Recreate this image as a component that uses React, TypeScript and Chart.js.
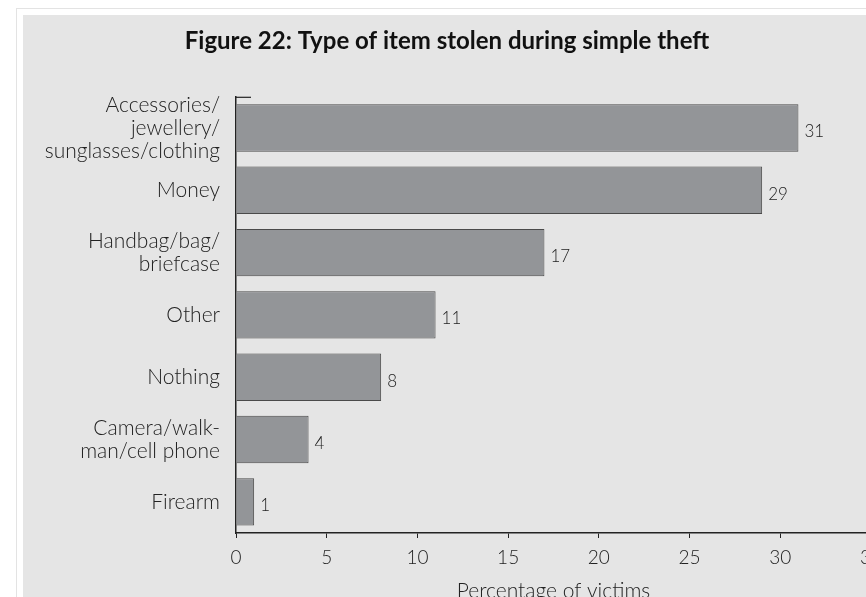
import React, { useEffect, useRef } from "react";
import { Chart, registerables } from "chart.js";

Chart.register(...registerables);

const titleText = "Figure 22: Type of item stolen during simple theft";
const xTitle = "Percentage of victims";
const categories: (string | string[])[] = [
  ["Accessories/", "jewellery/", "sunglasses/clothing"],
  "Money",
  ["Handbag/bag/", "briefcase"],
  "Other",
  "Nothing",
  ["Camera/walk-", "man/cell phone"],
  "Firearm",
];
const values = [31, 29, 17, 11, 8, 4, 1];
const xMin = 0;
const xMax = 35;
const xStep = 5;

const FONT = "Lato";
const TEXT = "#222";

const valueLabels = {
  id: "valueLabels",
  afterDatasetsDraw(chart: any) {
    const ctx = chart.ctx;
    const meta = chart.getDatasetMeta(0);
    ctx.save();
    ctx.font = `300 17px ${FONT}`;
    ctx.fillStyle = TEXT;
    ctx.textAlign = "left";
    ctx.textBaseline = "middle";
    meta.data.forEach((bar: any, i: number) => {
      ctx.fillText(String(values[i]), bar.x + 6, bar.y + 4);
    });
    ctx.restore();
  },
};

const topTick = {
  id: "topTick",
  afterDraw(chart: any) {
    const { ctx, chartArea } = chart;
    ctx.save();
    ctx.strokeStyle = "#222";
    ctx.lineWidth = 1.2;
    ctx.beginPath();
    ctx.moveTo(chartArea.left, chartArea.top + 0.5);
    ctx.lineTo(chartArea.left + 15, chartArea.top + 0.5);
    ctx.stroke();
    ctx.restore();
  },
};

export default function App() {
  const ref = useRef<HTMLCanvasElement | null>(null);

  useEffect(() => {
    if (!ref.current) return;
    const chart = new Chart(ref.current, {
      type: "bar",
      data: {
        labels: categories as any,
        datasets: [
          {
            data: values,
            backgroundColor: "#939598",
            borderColor: "#4a4a4a",
            borderWidth: 1,
            categoryPercentage: 0.76,
            barPercentage: 1,
          },
        ],
      },
      options: {
        indexAxis: "y",
        responsive: false,
        animation: false,
        layout: { padding: { left: 0, right: 32, top: 0, bottom: 0 } },
        plugins: {
          legend: { display: false },
          tooltip: { enabled: false },
          title: {
            display: true,
            text: titleText,
            color: "#111",
            font: { family: FONT, size: 24, weight: "bold" },
            padding: { top: 12, bottom: 41 },
          },
        },
        scales: {
          x: {
            type: "linear",
            min: xMin,
            max: xMax,
            ticks: {
              stepSize: xStep,
              color: TEXT,
              font: { family: FONT, size: 19, weight: "300" },
              padding: 8,
            },
            grid: {
              drawOnChartArea: false,
              drawTicks: true,
              tickLength: 5,
              color: "#222",
            },
            border: { display: true, color: "#222", width: 1.5 },
            title: {
              display: true,
              text: xTitle,
              color: TEXT,
              font: { family: FONT, size: 21, weight: "300" },
              padding: { top: 4, bottom: 11 },
            },
            afterFit: (scale: any) => {
              scale.height = 82;
            },
          },
          y: {
            type: "category",
            ticks: {
              autoSkip: false,
              color: TEXT,
              font: { family: FONT, size: 21, lineHeight: 1.1, weight: "300" },
              padding: 16,
            },
            grid: { display: false, drawTicks: false },
            border: { display: true, color: "#222", width: 1.5 },
            afterFit: (scale: any) => {
              scale.width = 213;
            },
          },
        },
      },
      plugins: [valueLabels, topTick],
    } as any);
    return () => chart.destroy();
  }, []);

  return (
    <div
      style={{
        position: "fixed",
        left: 0,
        top: 0,
        width: 866,
        height: 597,
        overflow: "hidden",
        background: "#fff",
      }}
    >
      <div
        style={{
          position: "absolute",
          left: 16,
          top: 8,
          width: 1000,
          height: 1000,
          border: "1px solid #e3e3e3",
        }}
      />
      <div
        style={{
          position: "absolute",
          left: 23,
          top: 15,
          width: 1000,
          height: 1000,
          background: "#e5e5e5",
        }}
      >
        <canvas ref={ref} width={880} height={600} style={{ display: "block" }} />
      </div>
    </div>
  );
}
